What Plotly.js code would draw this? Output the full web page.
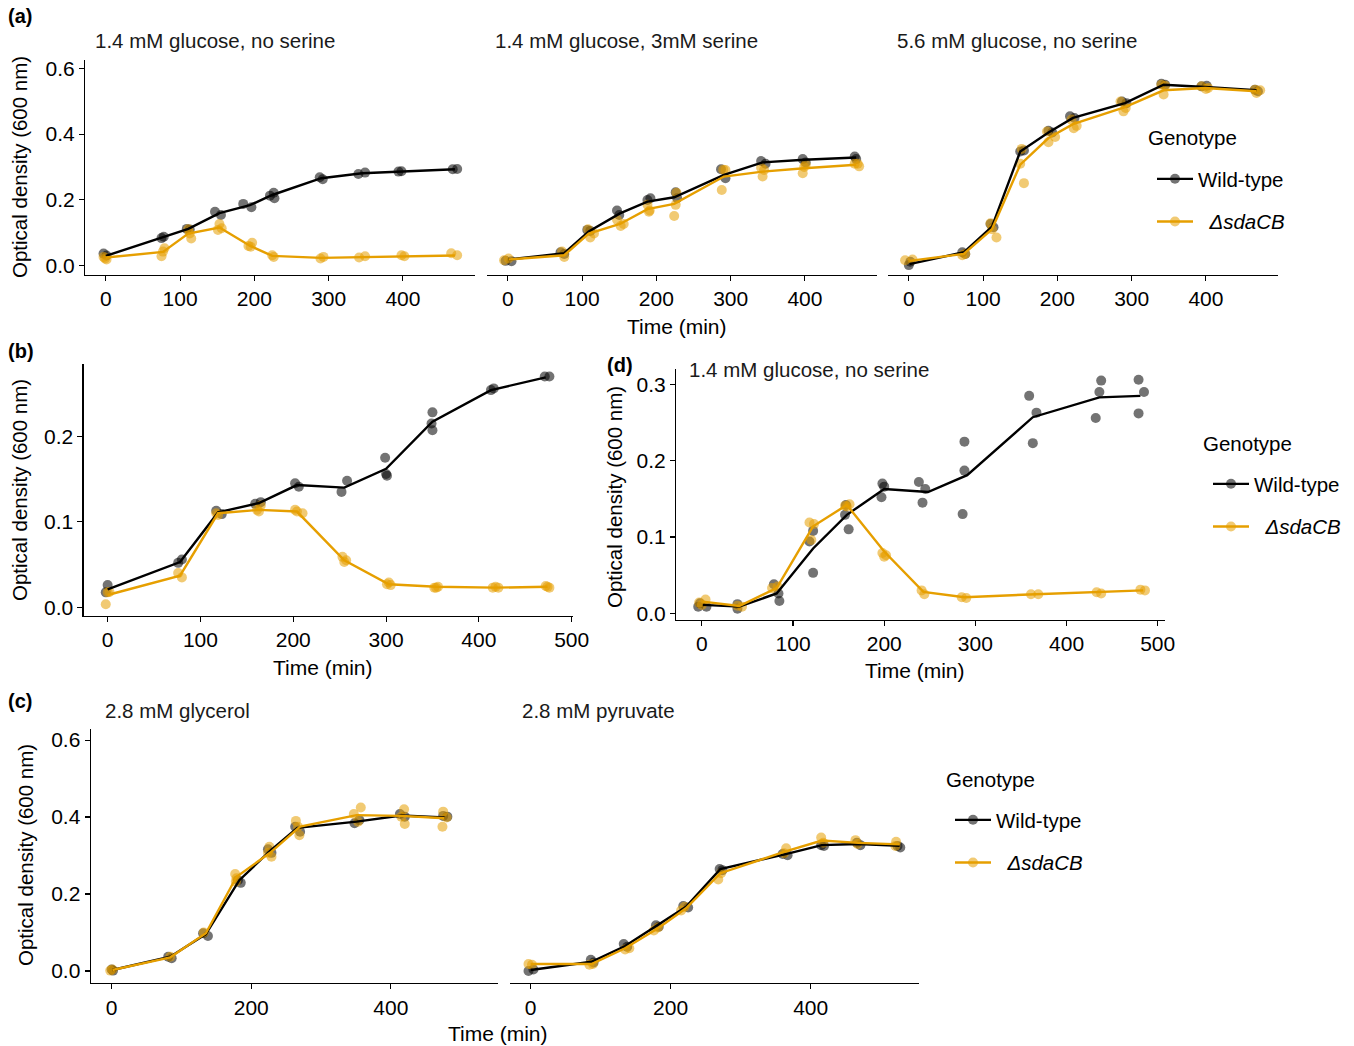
<!DOCTYPE html>
<html>
<head>
<meta charset="utf-8">
<script src="https://cdn.plot.ly/plotly-3.0.1.min.js"></script>
<style>html,body{margin:0;padding:0;background:#fff;}#chart{width:1354px;height:1046px;}</style>
</head>
<body>
<div id="chart"></div>
<script>
// ---------------- DATA ----------------
const genotypes = ["Wild-type", "ΔsdaCB"];
const legendTitle = "Genotype";
const titlesA = ["1.4 mM glucose, no serine", "1.4 mM glucose, 3mM serine", "5.6 mM glucose, no serine"];
const titleD = "1.4 mM glucose, no serine";
const titlesC = ["2.8 mM glycerol", "2.8 mM pyruvate"];
const xTicksA = [0, 100, 200, 300, 400];
const yTicksA = [0, 0.2, 0.4, 0.6];
const xTicksB = [0, 100, 200, 300, 400, 500];
const yTicksB = [0, 0.1, 0.2];
const xTicksD = [0, 100, 200, 300, 400, 500];
const yTicksD = [0, 0.1, 0.2, 0.3];
const xTicksC = [0, 200, 400];
const yTicksC = [0, 0.2, 0.4, 0.6];

// (a) 1.4 mM glucose, no serine
const a1Time = [0, 77, 111, 153, 194, 224, 290, 345, 397, 470];
const a1WtMean = [0.030, 0.086, 0.112, 0.160, 0.184, 0.215, 0.266, 0.281, 0.286, 0.293];
const a1KoMean = [0.025, 0.042, 0.098, 0.116, 0.061, 0.030, 0.024, 0.026, 0.028, 0.031];
const a1WtT = [-3, 1, 75, 78, 109, 113, 147, 155, 185, 196, 221, 227, 226, 288, 292, 340, 349, 394, 398, 467, 473];
const a1WtOD = [0.037, 0.031, 0.084, 0.088, 0.112, 0.110, 0.164, 0.154, 0.188, 0.178, 0.213, 0.205, 0.222, 0.269, 0.263, 0.279, 0.283, 0.286, 0.287, 0.293, 0.294];
const a1KoT = [-1, 1, -3, 75, 79, 77, 111, 115, 113, 151, 153, 156, 192, 197, 195, 224, 226, 289, 293, 341, 349, 398, 402, 465, 473];
const a1KoOD = [0.022, 0.019, 0.027, 0.029, 0.053, 0.043, 0.111, 0.083, 0.098, 0.109, 0.127, 0.114, 0.060, 0.070, 0.058, 0.032, 0.027, 0.022, 0.027, 0.025, 0.029, 0.032, 0.029, 0.038, 0.032];

// (a) 1.4 mM glucose, 3mM serine
const a2Time = [1, 76, 109, 151, 188, 224, 291, 343, 399, 469];
const a2WtMean = [0.019, 0.038, 0.104, 0.159, 0.195, 0.208, 0.276, 0.314, 0.322, 0.329];
const a2KoMean = [0.019, 0.032, 0.098, 0.127, 0.172, 0.188, 0.271, 0.286, 0.296, 0.307];
const a2WtT = [-3, 5, 71, 76, 107, 111, 147, 150, 188, 192, 226, 228, 287, 293, 341, 347, 397, 401, 467, 469];
const a2WtOD = [0.015, 0.014, 0.041, 0.036, 0.109, 0.106, 0.168, 0.154, 0.200, 0.205, 0.223, 0.205, 0.293, 0.266, 0.318, 0.310, 0.324, 0.314, 0.332, 0.324];
const a2KoT = [-5, 1, 76, 73, 111, 116, 108, 152, 156, 147, 190, 188, 191, 224, 226, 227, 288, 293, 290, 343, 345, 341, 397, 399, 401, 473, 467, 471];
const a2KoOD = [0.017, 0.022, 0.027, 0.043, 0.086, 0.098, 0.111, 0.121, 0.127, 0.140, 0.164, 0.185, 0.168, 0.151, 0.185, 0.222, 0.230, 0.291, 0.292, 0.271, 0.291, 0.298, 0.281, 0.300, 0.307, 0.302, 0.310, 0.310];

// (a) 5.6 mM glucose, no serine
const a3Time = [1, 74, 112, 150, 188, 221, 291, 343, 399, 468];
const a3WtMean = [0.005, 0.041, 0.119, 0.347, 0.405, 0.449, 0.494, 0.550, 0.543, 0.533];
const a3KoMean = [0.015, 0.036, 0.111, 0.307, 0.388, 0.430, 0.482, 0.533, 0.540, 0.530];
const a3WtT = [0, 2, 72, 76, 110, 114, 150, 155, 188, 193, 217, 223, 287, 293, 340, 345, 394, 401, 466, 470];
const a3WtOD = [0.002, 0.012, 0.041, 0.036, 0.127, 0.117, 0.347, 0.350, 0.410, 0.405, 0.454, 0.449, 0.499, 0.494, 0.553, 0.550, 0.545, 0.547, 0.535, 0.530];
const a3KoT = [-5, 5, 72, 76, 110, 118, 112, 150, 155, 152, 188, 197, 186, 222, 226, 219, 289, 292, 285, 343, 345, 340, 394, 400, 403, 468, 473, 466];
const a3KoOD = [0.017, 0.019, 0.032, 0.036, 0.129, 0.086, 0.111, 0.310, 0.251, 0.355, 0.375, 0.391, 0.408, 0.418, 0.425, 0.444, 0.469, 0.479, 0.499, 0.520, 0.547, 0.550, 0.545, 0.537, 0.540, 0.525, 0.533, 0.535];

// (b)
const bWtTime = [0, 78, 119, 163, 204, 255, 300, 350, 413, 472];
const bWtMean = [0.021, 0.053, 0.111, 0.122, 0.143, 0.140, 0.162, 0.217, 0.254, 0.269];
const bKoTime = [0, 78, 119, 163, 204, 255, 303, 354, 417, 474];
const bKoMean = [0.0144, 0.037, 0.110, 0.114, 0.112, 0.055, 0.027, 0.024, 0.023, 0.024];
const bWtT = [0, -2, 76, 80, 117, 123, 159, 165, 202, 206, 252, 258, 299, 300, 301, 350, 349, 350, 413, 416, 471, 476];
const bWtOD = [0.026, 0.0175, 0.052, 0.056, 0.113, 0.109, 0.121, 0.123, 0.145, 0.141, 0.135, 0.148, 0.175, 0.156, 0.154, 0.228, 0.215, 0.207, 0.254, 0.256, 0.270, 0.270];
const bKoT = [-2, 0, 2, 76, 80, 117, 119, 161, 163, 165, 202, 210, 204, 253, 257, 255, 303, 305, 301, 352, 356, 354, 415, 421, 418, 472, 476, 474];
const bKoOD = [0.0035, 0.0175, 0.018, 0.040, 0.035, 0.110, 0.108, 0.114, 0.112, 0.119, 0.114, 0.110, 0.112, 0.059, 0.055, 0.053, 0.029, 0.026, 0.027, 0.023, 0.024, 0.023, 0.023, 0.023, 0.024, 0.025, 0.023, 0.024];

// (d)
const dWtTime = [1, 41, 82, 122, 159, 200, 248, 291, 363, 436, 481];
const dWtMean = [0.011, 0.0087, 0.026, 0.085, 0.129, 0.163, 0.159, 0.181, 0.257, 0.283, 0.285];
const dKoTime = [1, 41, 82, 122, 159, 200, 243, 288, 366, 436, 484];
const dKoMean = [0.0153, 0.0096, 0.033, 0.114, 0.142, 0.081, 0.028, 0.021, 0.025, 0.0275, 0.030];
const dWtT = [-4, 5, -2, 39, 39, 79, 84, 85, 118, 122, 122, 157, 161, 158, 198, 200, 197, 238, 245, 242, 288, 288, 286, 359, 367, 363, 438, 436, 432, 479, 485, 479];
const dWtOD = [0.0087, 0.0087, 0.013, 0.012, 0.006, 0.038, 0.026, 0.016, 0.094, 0.108, 0.053, 0.129, 0.110, 0.142, 0.170, 0.166, 0.152, 0.172, 0.163, 0.145, 0.225, 0.187, 0.130, 0.285, 0.263, 0.223, 0.305, 0.290, 0.256, 0.306, 0.290, 0.262];
const dKoT = [-3, 4, 0, 44, 39, 77, 83, 118, 123, 120, 157, 162, 159, 198, 202, 200, 241, 244, 285, 290, 361, 369, 433, 438, 481, 486];
const dKoOD = [0.014, 0.018, 0.011, 0.0087, 0.010, 0.033, 0.035, 0.119, 0.117, 0.096, 0.141, 0.143, 0.140, 0.079, 0.076, 0.074, 0.030, 0.025, 0.021, 0.020, 0.025, 0.025, 0.0275, 0.026, 0.031, 0.030];

// (c) 2.8 mM glycerol
const c1WtTime = [1, 84, 135, 183, 227, 266, 351, 415, 477];
const c1WtMean = [0.0026, 0.037, 0.096, 0.236, 0.312, 0.372, 0.388, 0.404, 0.399];
const c1KoTime = [1, 84, 135, 179, 227, 270, 351, 415, 477];
const c1KoMean = [0.0026, 0.0355, 0.098, 0.245, 0.307, 0.375, 0.405, 0.403, 0.397];
const c1WtT = [0, 2, 81, 86, 131, 138, 181, 185, 224, 229, 263, 270, 348, 355, 413, 420, 475, 481];
const c1WtOD = [0.004, 0.001, 0.037, 0.033, 0.098, 0.091, 0.236, 0.229, 0.316, 0.307, 0.375, 0.362, 0.384, 0.392, 0.408, 0.401, 0.403, 0.401];
const c1KoT = [-2, 1, 84, 132, 177, 179, 178, 226, 229, 224, 264, 269, 267, 347, 357, 353, 419, 420, 415, 475, 474, 480];
const c1KoOD = [0.001, 0.004, 0.037, 0.100, 0.252, 0.241, 0.232, 0.323, 0.297, 0.307, 0.390, 0.353, 0.375, 0.408, 0.425, 0.388, 0.420, 0.382, 0.401, 0.414, 0.375, 0.399];

// (c) 2.8 mM pyruvate
const c2Time = [0, 87, 135, 182, 222, 271, 363, 416, 468, 527];
const c2WtMean = [0.0026, 0.024, 0.065, 0.119, 0.167, 0.265, 0.303, 0.327, 0.330, 0.325];
const c2KoMean = [0.018, 0.018, 0.059, 0.111, 0.163, 0.254, 0.310, 0.339, 0.333, 0.329];
const c2WtT = [-3, 4, 86, 90, 133, 138, 179, 183, 218, 225, 270, 274, 360, 367, 415, 419, 466, 471, 524, 528];
const c2WtOD = [0.000, 0.004, 0.029, 0.022, 0.070, 0.063, 0.119, 0.115, 0.169, 0.165, 0.265, 0.262, 0.304, 0.301, 0.327, 0.325, 0.333, 0.327, 0.325, 0.321];
const c2KoT = [-3, 2, 84, 89, 135, 141, 176, 182, 215, 220, 268, 272, 365, 362, 415, 418, 464, 467, 522, 521];
const c2KoOD = [0.018, 0.016, 0.016, 0.018, 0.056, 0.059, 0.105, 0.113, 0.157, 0.167, 0.238, 0.254, 0.319, 0.306, 0.347, 0.333, 0.340, 0.330, 0.336, 0.325];

// ---------------- STYLE / LAYOUT ----------------
const W = 1354, H = 1046;
const FONT = "Liberation Sans, Arial, Helvetica, sans-serif";
const FS = 21;
const WT_LINE = "#000000", KO_LINE = "#E69F00";
const WT_PT = "rgba(0,0,0,0.55)", KO_PT = "rgba(230,159,0,0.55)";
const px = x => x / W;
const py = y => 1 - y / H;

const traces = [];
function addPanel(ax, wtT, wtOD, koT, koOD, wtTime, wtMean, koTime, koMean) {
  const xa = ax === 1 ? "x" : "x" + ax, ya = ax === 1 ? "y" : "y" + ax;
  traces.push({type: "scatter", mode: "markers", x: wtT, y: wtOD, xaxis: xa, yaxis: ya, showlegend: false,
    marker: {color: WT_PT, size: 10, line: {width: 0}}, hoverinfo: "skip"});
  traces.push({type: "scatter", mode: "markers", x: koT, y: koOD, xaxis: xa, yaxis: ya, showlegend: false,
    marker: {color: KO_PT, size: 10, line: {width: 0}}, hoverinfo: "skip"});
  traces.push({type: "scatter", mode: "lines", x: wtTime, y: wtMean, xaxis: xa, yaxis: ya, showlegend: false,
    line: {color: WT_LINE, width: 2.4}, hoverinfo: "skip"});
  traces.push({type: "scatter", mode: "lines", x: koTime, y: koMean, xaxis: xa, yaxis: ya, showlegend: false,
    line: {color: KO_LINE, width: 2.4}, hoverinfo: "skip"});
}
addPanel(1, a1WtT, a1WtOD, a1KoT, a1KoOD, a1Time, a1WtMean, a1Time, a1KoMean);
addPanel(2, a2WtT, a2WtOD, a2KoT, a2KoOD, a2Time, a2WtMean, a2Time, a2KoMean);
addPanel(3, a3WtT, a3WtOD, a3KoT, a3KoOD, a3Time, a3WtMean, a3Time, a3KoMean);
addPanel(4, bWtT, bWtOD, bKoT, bKoOD, bWtTime, bWtMean, bKoTime, bKoMean);
addPanel(5, dWtT, dWtOD, dKoT, dKoOD, dWtTime, dWtMean, dKoTime, dKoMean);
addPanel(6, c1WtT, c1WtOD, c1KoT, c1KoOD, c1WtTime, c1WtMean, c1KoTime, c1KoMean);
addPanel(7, c2WtT, c2WtOD, c2KoT, c2KoOD, c2Time, c2WtMean, c2Time, c2KoMean);

// legend entries (no data, legend keys only)
[["legend", "x3", "y3"], ["legend2", "x5", "y5"], ["legend3", "x7", "y7"]].forEach(([lg, xa, ya]) => {
  traces.push({type: "scatter", mode: "lines+markers", x: [null], y: [null], xaxis: xa, yaxis: ya,
    name: genotypes[0], legend: lg, legendgroup: lg + "wt", showlegend: true,
    line: {color: WT_LINE, width: 2.4}, marker: {color: WT_PT, size: 10}});
  traces.push({type: "scatter", mode: "lines+markers", x: [null], y: [null], xaxis: xa, yaxis: ya,
    name: "\u00a0\u00a0<i>" + genotypes[1] + "</i>", legend: lg, legendgroup: lg + "ko", showlegend: true,
    line: {color: KO_LINE, width: 2.4}, marker: {color: KO_PT, size: 10}});
});

const axBase = {showgrid: false, zeroline: false, showline: true, linecolor: "#000", linewidth: 1.1,
  ticks: "outside", ticklen: 5, tickwidth: 1.1, tickcolor: "#000",
  tickfont: {family: FONT, size: FS, color: "#000"}, fixedrange: true};
function xAx(x0, x1, range, tv, anchor) {
  return Object.assign({}, axBase, {domain: [px(x0), px(x1)], range: range, tickvals: tv, anchor: anchor});
}
function yAx(y0, y1, range, tv, anchor, show) {
  const o = Object.assign({}, axBase, {domain: [py(y1), py(y0)], range: range, tickvals: tv, anchor: anchor, tickformat: ".1f"});
  if (!show) { o.showline = false; o.ticks = ""; o.showticklabels = false; }
  return o;
}
const rA = [-28, 497], yrA = [-0.028, 0.625];
const layout = {
  width: W, height: H, margin: {l: 0, r: 0, t: 0, b: 0},
  paper_bgcolor: "#fff", plot_bgcolor: "rgba(0,0,0,0)", hovermode: false,
  font: {family: FONT, size: FS, color: "#000"},
  xaxis: xAx(85, 475, rA, xTicksA, "y"),
  yaxis: yAx(60, 275, yrA, yTicksA, "x", true),
  xaxis2: xAx(487, 877, rA, xTicksA, "y2"),
  yaxis2: yAx(60, 275, yrA, yTicksA, "x2", false),
  xaxis3: xAx(888, 1278, rA, xTicksA, "y3"),
  yaxis3: yAx(60, 275, yrA, yTicksA, "x3", false),
  xaxis4: xAx(83.5, 572.6, [-26, 501], xTicksB, "y4"),
  yaxis4: yAx(364.3, 615.7, [-0.0098, 0.2842], yTicksB, "x4", true),
  xaxis5: xAx(676, 1165, [-28.4, 508], xTicksD, "y5"),
  yaxis5: yAx(369.3, 620, [-0.0088, 0.3198], yTicksD, "x5", true),
  xaxis6: xAx(90.7, 498.3, [-30, 554], xTicksC, "y6"),
  yaxis6: yAx(729.3, 983.3, [-0.032, 0.628], yTicksC, "x6", true),
  xaxis7: xAx(509.6, 918.5, [-30, 554], xTicksC, "y7"),
  yaxis7: yAx(729.3, 983.3, [-0.032, 0.628], yTicksC, "x7", false),
  annotations: [],
  showlegend: true
};
function legendAt(x, y) {
  return {x: px(x), y: py(y), xanchor: "left", yanchor: "top", bgcolor: "rgba(0,0,0,0)", borderwidth: 0,
    font: {family: FONT, size: 20.5, color: "#000"}, tracegroupgap: 13, itemwidth: 36, traceorder: "grouped"};
}
layout.legend = legendAt(1152, 159);
layout.legend2 = legendAt(1208, 464);
layout.legend3 = legendAt(950, 800);

function ann(text, x, y, opts) {
  layout.annotations.push(Object.assign({text: text, x: px(x), y: py(y), xref: "paper", yref: "paper",
    showarrow: false, xanchor: "left", yanchor: "middle", font: {family: FONT, size: FS, color: "#000"}}, opts || {}));
}
// legend titles
ann(legendTitle, 1146, 138, {font: {family: FONT, size: 20.5, color: "#000"}});
ann(legendTitle, 1201, 443, {font: {family: FONT, size: 20.5, color: "#000"}});
ann(legendTitle, 944, 779, {font: {family: FONT, size: 20.5, color: "#000"}});
// panel labels
ann("<b>(a)</b>", 6, 16, {font: {family: FONT, size: 20, color: "#000"}});
ann("<b>(b)</b>", 6, 351, {font: {family: FONT, size: 20, color: "#000"}});
ann("<b>(c)</b>", 6, 701, {font: {family: FONT, size: 20, color: "#000"}});
ann("<b>(d)</b>", 605, 365, {font: {family: FONT, size: 20, color: "#000"}});
// facet titles
const ft = {font: {family: FONT, size: 20.5, color: "#1a1a1a"}};
ann(titlesA[0], 93, 41, ft);
ann(titlesA[1], 493, 41, ft);
ann(titlesA[2], 895, 41, ft);
ann(titleD, 687, 369, ft);
ann(titlesC[0], 103, 710, ft);
ann(titlesC[1], 520, 710, ft);
// axis titles
const yTitle = "Optical density (600 nm)";
const yt = {xanchor: "center", textangle: -90, font: {family: FONT, size: 20.5, color: "#000"}};
ann(yTitle, 19, 167, yt);
ann(yTitle, 19, 490, yt);
ann(yTitle, 614, 497, yt);
ann(yTitle, 25, 855, yt);
ann("Time (min)", 677, 326, {xanchor: "center"});
ann("Time (min)", 323, 667, {xanchor: "center"});
ann("Time (min)", 915, 670, {xanchor: "center"});
ann("Time (min)", 498, 1033, {xanchor: "center"});

Plotly.newPlot("chart", traces, layout, {staticPlot: true, displayModeBar: false});
</script>
</body>
</html>
